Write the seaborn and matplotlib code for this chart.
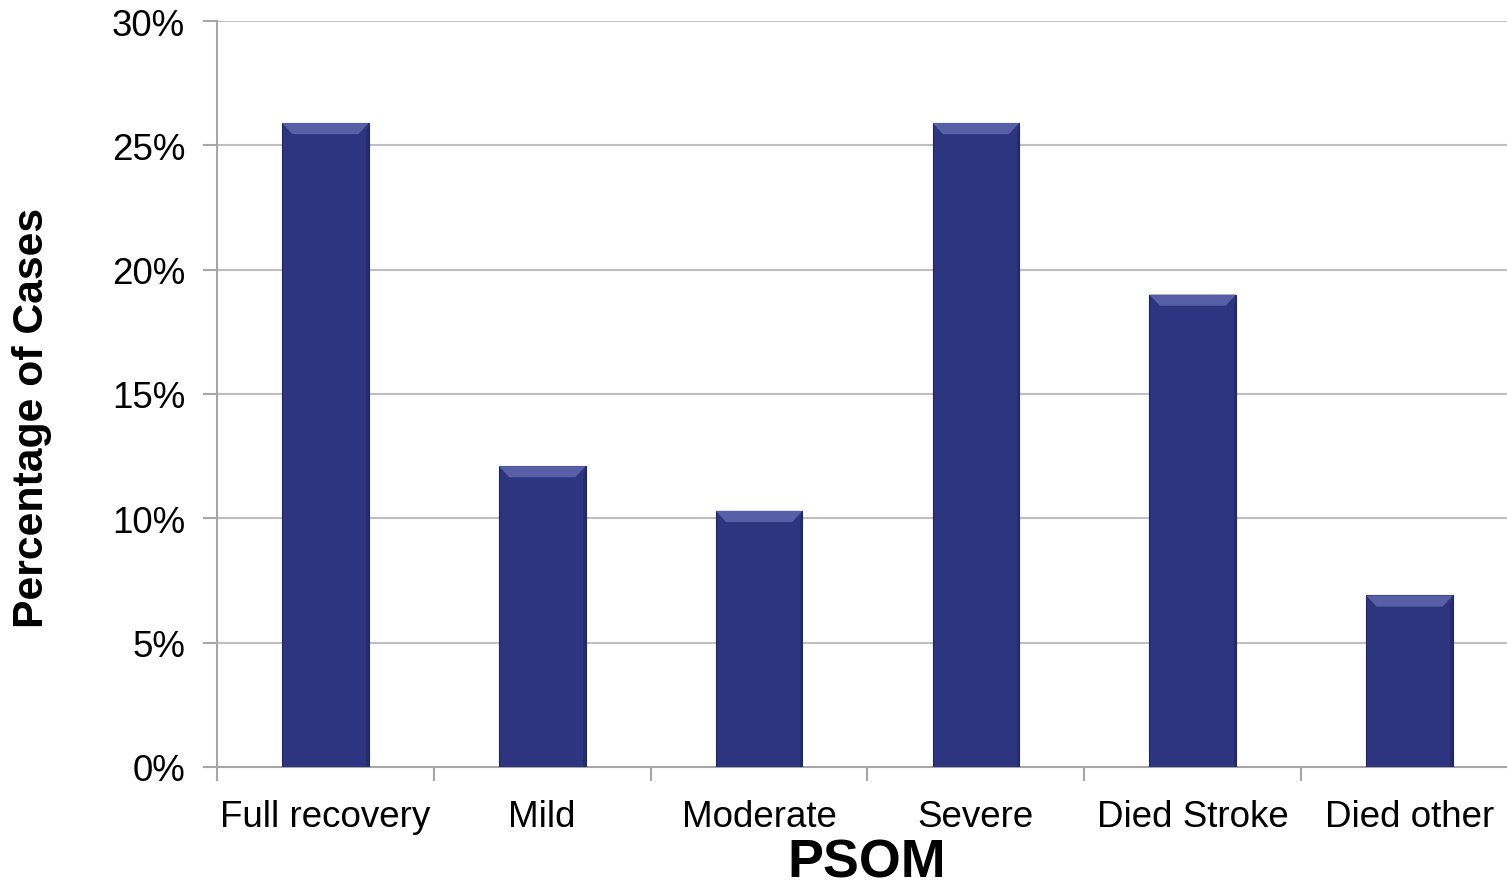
import matplotlib
matplotlib.use("Agg")
import matplotlib.pyplot as plt
from matplotlib.patches import Polygon
import seaborn as sns
import pandas as pd

categories = ["Full recovery", "Mild", "Moderate", "Severe", "Died Stroke", "Died other"]
values = [25.9, 12.1, 10.3, 25.9, 19.0, 6.9]
y_ticks = [0, 5, 10, 15, 20, 25, 30]
y_tick_labels = ["0%", "5%", "10%", "15%", "20%", "25%", "30%"]

sns.set_style("white")
plt.rcParams["font.family"] = ["Liberation Sans", "DejaVu Sans"]
plt.rcParams["text.color"] = "black"
plt.rcParams["xtick.color"] = "black"
plt.rcParams["ytick.color"] = "black"
plt.rcParams["axes.labelcolor"] = "black"

df = pd.DataFrame({"cat": categories, "val": values})

AX_W = 1301
fig = plt.figure(figsize=(15.07, 8.87), dpi=100)
ax = fig.add_axes([217/1507, 119/887, AX_W/1507, (768-22)/887])

sns.barplot(data=df, x="cat", y="val", color="#2e3580", width=0.4, ax=ax,
            saturation=1, edgecolor="#1f2560", linewidth=0.8, zorder=3)

# bevel highlight on top of each bar
for p in ax.patches:
    x0 = p.get_x(); w = p.get_width(); h = p.get_height()
    bh = 0.45
    dx = w * 0.12
    poly = Polygon([[x0, h], [x0 + w, h], [x0 + w - dx, h - bh], [x0 + dx, h - bh]],
                   closed=True, facecolor="#5760a6", edgecolor="none", zorder=4)
    ax.add_patch(poly)
    poly2 = Polygon([[x0 + w, h], [x0 + w, 0], [x0 + w - dx*0.25, 0], [x0 + w - dx*0.25, h - bh]],
                    closed=True, facecolor="#252b6b", edgecolor="none", zorder=4)
    ax.add_patch(poly2)

ax.set_ylim(0, 30)
ax.set_xlim(-0.5, len(categories) - 0.5)
ax.set_yticks(y_ticks)
ax.set_yticklabels(y_tick_labels, fontsize=26.5)
ax.set_xticks(range(len(categories)))
ax.set_xticklabels(categories, fontsize=26.5)
ax.tick_params(axis="x", length=0, pad=23)
ax.tick_params(axis="y", length=10, width=1.5, color="#a6a6a6", pad=13, left=True, labelcolor="black")
ax.tick_params(axis="x", labelcolor="black")

# category-boundary ticks on x axis
ax.set_xticks([i - 0.5 for i in range(len(categories) + 1)], minor=True)
ax.tick_params(axis="x", which="minor", length=10, width=1.5, color="#a6a6a6", bottom=True)

ax.yaxis.grid(True, color="#bfbfbf", linewidth=1.5, zorder=0)
ax.set_axisbelow(True)
for s in ["top", "right"]:
    ax.spines[s].set_visible(False)
for s in ["left", "bottom"]:
    ax.spines[s].set_color("#a6a6a6")
    ax.spines[s].set_linewidth(1.5)

ax.set_ylabel("Percentage of Cases", fontsize=30.8, fontweight="bold")
ax.yaxis.set_label_coords(-(217 - 32) / AX_W, (768 - 418) / (768 - 22))
ax.set_xlabel("PSOM", fontsize=38.8, fontweight="bold")
ax.xaxis.set_label_coords((867 - 217) / AX_W, -(864 - 768) / (768 - 22))
ax.xaxis.label.set_va("center")
ax.yaxis.label.set_va("center")

fig.savefig("out.png", dpi=100)
